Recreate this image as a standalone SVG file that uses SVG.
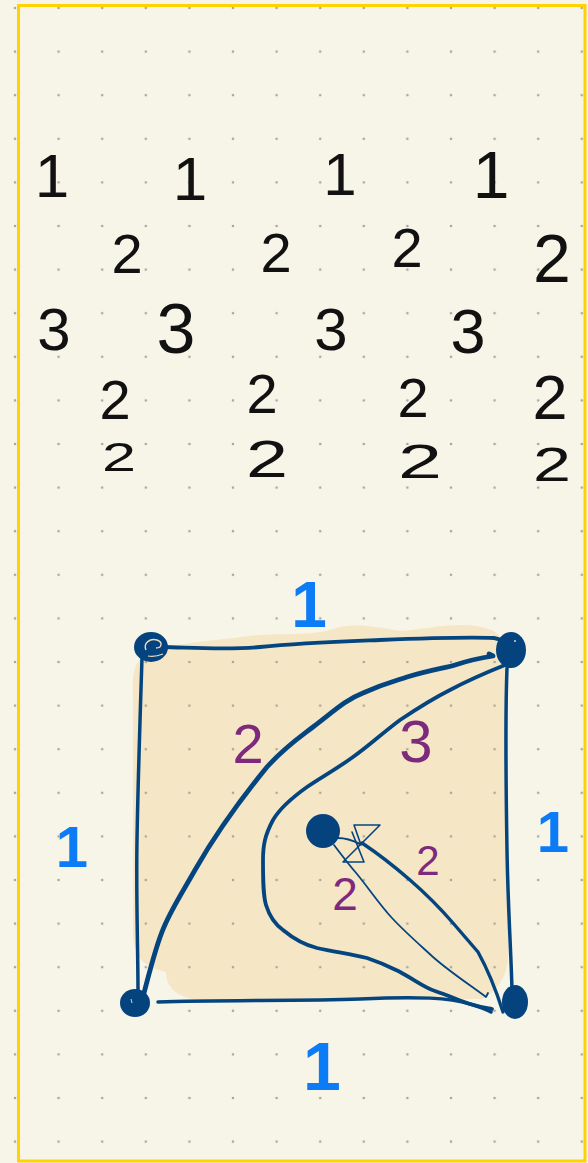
<svg xmlns="http://www.w3.org/2000/svg" width="588" height="1163" viewBox="0 0 588 1163">
  <style>
    .bk { font-family: "Liberation Sans", Arial, sans-serif; font-weight: 400; fill: #111; text-anchor: middle; }
    .bl { font-family: "Liberation Sans", Arial, sans-serif; font-weight: 700; fill: #0b7bf6; text-anchor: middle; }
    .pu { font-family: "Liberation Sans", Arial, sans-serif; font-weight: 400; fill: #7e2a7c; text-anchor: middle; }
    .edge { fill: none; stroke: #05457f; stroke-linecap: round; stroke-linejoin: round; }
    .node { fill: #05437f; }
  </style>
  <defs>
    <pattern id="dots" patternUnits="userSpaceOnUse" x="-6.8" y="-13.8" width="43.6" height="43.6">
      <circle cx="21.8" cy="21.8" r="1.3" fill="#aaa69c"/>
    </pattern>
  </defs>

  <rect width="588" height="1163" fill="#f7f4e8"/>

  <!-- tan fill region -->
  <path id="region" d="M140,660 C150,645 200,642 250,636 C280,632 300,637 330,630 C352,622 372,626 400,631 C432,629 462,619 492,630 C510,640 508,662 508,700 L508,945 C510,972 500,990 482,999 L200,1000 C178,998 166,988 166,972 C150,968 134,962 133,935 L133,700 C132,680 133,666 140,660 Z" fill="#f5e6c6"/>

  <rect width="588" height="1163" fill="url(#dots)"/>

  <!-- upper rows of numbers -->
  <g id="numbers">
    <text class="bk" x="52" y="197" font-size="62">1</text>
    <text class="bk" x="190" y="200" font-size="62">1</text>
    <text class="bk" x="340" y="195" font-size="60">1</text>
    <text class="bk" x="491" y="198" font-size="66">1</text>

    <text class="bk" x="127" y="273" font-size="56">2</text>
    <text class="bk" x="276" y="272" font-size="56">2</text>
    <text class="bk" x="407" y="267" font-size="56">2</text>
    <text class="bk" x="552" y="282" font-size="68">2</text>

    <text class="bk" x="54" y="350" font-size="60">3</text>
    <text class="bk" x="176" y="353" font-size="70" font-weight="700">3</text>
    <text class="bk" x="331" y="350" font-size="60">3</text>
    <text class="bk" x="468" y="353" font-size="63">3</text>

    <text class="bk" x="115" y="419" font-size="56">2</text>
    <text class="bk" x="262" y="413" font-size="56">2</text>
    <text class="bk" x="413" y="417" font-size="56">2</text>
    <text class="bk" x="550" y="419" font-size="63">2</text>

    <text class="bk" x="119" y="471" font-size="40" textLength="34" lengthAdjust="spacingAndGlyphs">2</text>
    <text class="bk" x="267" y="477" font-size="51" textLength="42" lengthAdjust="spacingAndGlyphs">2</text>
    <text class="bk" x="420" y="478" font-size="49" textLength="44" lengthAdjust="spacingAndGlyphs">2</text>
    <text class="bk" x="552" y="481" font-size="49" textLength="38" lengthAdjust="spacingAndGlyphs">2</text>
  </g>

  <!-- connectors -->
  <g id="connectors">
    <!-- square sides -->
    <path class="edge" stroke-width="3.8" d="M162,647 C200,648 230,650 260,647 C300,643 330,642 380,640 C430,638 470,637 494,638 C502,639 505,643 507,648"/>
    <path class="edge" stroke-width="3.5" d="M142,658 C140,720 138,780 137,840 C136,900 138,950 138,992"/>
    <path class="edge" stroke-width="3.5" d="M158,1002 C220,1000 300,1001 360,999 C420,996 450,998 470,1004 C480,1007 488,1010 491,1012"/>
    <path class="edge" stroke-width="3.5" d="M507,668 C505,720 506,790 507,850 C508,910 511,950 512,990"/>
    <!-- diagonal thick edge (2) -->
    <path class="edge" stroke-width="4.8" d="M143,997 C150,970 156,945 164,927 C172,908 182,893 195,870 C215,835 240,800 267,767 C285,747 300,737 313,727 C333,712 345,700 363,693 C385,683 395,681 407,677 C430,670 445,668 455,665 C470,660 480,658 493,656 L489,654"/>
    <!-- edge labelled 3 -->
    <path class="edge" stroke-width="3.8" d="M505,665 C480,675 465,682 450,690 C430,700 415,710 400,720 C380,735 370,745 353,757 C335,770 320,778 307,787 C293,797 280,808 273,820 C265,835 263,845 263,860 C263,880 263,895 266,905 C270,918 276,925 283,930 C295,940 305,945 317,948 C335,952 350,954 367,958 C385,964 392,968 400,972 C415,980 425,988 435,991 C450,996 460,1001 470,1004 C480,1007 487,1008 492,1009"/>
    <!-- center to bottom-right, thin -->
    <path class="edge" stroke-width="1.8" d="M334,845 C343,857 350,866 357,874 C370,890 380,905 392,918 C405,932 420,945 433,957 C450,972 470,985 486,997 L488,993"/>
    <!-- center to bottom-right, thicker -->
    <path class="edge" stroke-width="3.4" d="M362,843 C380,855 395,867 410,880 C425,893 440,908 453,923 C465,937 472,945 478,952 C488,970 496,990 503,1012"/>
    <!-- stub from centre node to arrowhead -->
    <path class="edge" stroke-width="2.2" d="M338,838 C345,838 352,840 360,844"/>
    <!-- bow-tie arrowhead -->
    <path class="edge" stroke-width="1.6" d="M352,832 L364,862 L343,862 L380,825 L354,825 L361,845"/>
  </g>

  <!-- nodes -->
  <g id="node-tl">
    <ellipse class="node" cx="151" cy="647" rx="17" ry="15"/>
    <path d="M146,650 C143,643 150,638 157,640 C163,642 162,648 156,648" fill="none" stroke="#e9dcc2" stroke-width="1.4"/>
    <path d="M148,656 C153,657 158,656 163,654" fill="none" stroke="#e9dcc2" stroke-width="1.2"/>
  </g>
  <g id="node-tr">
    <ellipse class="node" cx="511" cy="650" rx="15" ry="18"/>
    <circle cx="515" cy="641" r="0.9" fill="#e9e4d8"/>
  </g>
  <g id="node-bl">
    <ellipse class="node" cx="135" cy="1003" rx="15" ry="14"/>
    <path d="M131,999 L132,1003" stroke="#e9e4d8" stroke-width="0.9"/>
  </g>
  <g id="node-br">
    <ellipse class="node" cx="515" cy="1002" rx="13" ry="17"/>
  </g>
  <g id="node-c">
    <ellipse class="node" cx="323" cy="831" rx="17" ry="17"/>
  </g>

  <!-- edge labels -->
  <g id="labels">
    <text class="bl" x="309" y="627" font-size="64">1</text>
    <text class="bl" x="72" y="867" font-size="58">1</text>
    <text class="bl" x="553" y="852" font-size="58">1</text>
    <text class="bl" x="322" y="1090" font-size="68">1</text>
    <text class="pu" x="248" y="763" font-size="56">2</text>
    <text class="pu" x="416" y="762" font-size="60">3</text>
    <text class="pu" x="428" y="875" font-size="42">2</text>
    <text class="pu" x="345" y="910" font-size="46">2</text>
  </g>

  <!-- yellow frame -->
  <rect x="18.5" y="5.5" width="566.5" height="1155.5" fill="none" stroke="#ffd200" stroke-width="3"/>
</svg>
